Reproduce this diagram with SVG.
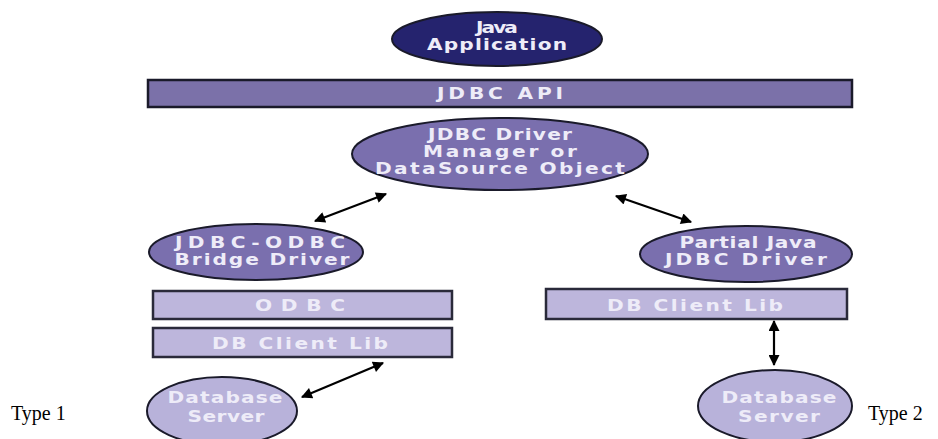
<svg xmlns="http://www.w3.org/2000/svg" width="938" height="439" viewBox="0 0 938 439">
  <style>
    .node { stroke: #1a1a2a; stroke-width: 2; }
    .dark { fill: #25236e; }
    .mid { fill: #7a6fae; }
    .light { fill: #b8b2da; }
    .bar { fill: #7b71a9; stroke: #1a1a2a; stroke-width: 2.5; }
    .lbar { fill: #bdb6dc; stroke: #2a2a3a; stroke-width: 2.5; }
    /* labels use a horizontally stretched sans for the wide lettering */
    .lbl { font-family: "DejaVu Sans", Verdana, sans-serif; font-size: 15.5px; font-weight: bold; fill: #eeecf8; text-anchor: middle; }
    .type { font-family: "Liberation Serif", serif; font-size: 20px; fill: #000; }
    .conn { stroke: #000; stroke-width: 2.2; fill: none; marker-start: url(#head); marker-end: url(#head); }
  </style>
  <defs>
    <marker id="head" viewBox="0 0 10 10" refX="9" refY="5" markerWidth="6" markerHeight="5" orient="auto-start-reverse" markerUnits="strokeWidth">
      <path d="M0,0 L10,5 L0,10 Z" fill="#000"/>
    </marker>
  </defs>
  <rect width="938" height="439" fill="#fff"/>

  <g id="connectors">
    <line class="conn" x1="315" y1="221" x2="386" y2="194"/>
    <line class="conn" x1="616" y1="196" x2="691" y2="222"/>
    <line class="conn" x1="774" y1="321" x2="774" y2="365"/>
    <line class="conn" x1="302" y1="397" x2="383" y2="363"/>
  </g>

  <g id="java-application">
    <ellipse class="node dark" cx="497" cy="39" rx="105" ry="27"/>
    <text class="lbl" transform="translate(497 33) scale(1.3 1)" textLength="32.3" lengthAdjust="spacing">Java</text>
    <text class="lbl" transform="translate(497 50) scale(1.3 1)" textLength="107.7" lengthAdjust="spacing">Application</text>
  </g>

  <g id="jdbc-api">
    <rect class="bar" x="148" y="80" width="704" height="27"/>
    <text class="lbl" transform="translate(500 99) scale(1.3 1)" textLength="96.9" lengthAdjust="spacing">JDBC API</text>
  </g>

  <g id="driver-manager">
    <ellipse class="node mid" cx="500" cy="154" rx="148" ry="36"/>
    <text class="lbl" transform="translate(500 140) scale(1.3 1)" textLength="110.8" lengthAdjust="spacing">JDBC Driver</text>
    <text class="lbl" transform="translate(500 157) scale(1.3 1)" textLength="118.5" lengthAdjust="spacing">Manager or</text>
    <text class="lbl" transform="translate(500 174) scale(1.3 1)" textLength="192.3" lengthAdjust="spacing">DataSource Object</text>
  </g>

  <g id="bridge-driver">
    <ellipse class="node mid" cx="256" cy="252" rx="107" ry="28"/>
    <text class="lbl" transform="translate(260 248) scale(1.3 1)" textLength="130.8" lengthAdjust="spacing">JDBC-ODBC</text>
    <text class="lbl" transform="translate(262 265) scale(1.3 1)" textLength="134.6" lengthAdjust="spacing">Bridge Driver</text>
  </g>

  <g id="partial-java-driver">
    <ellipse class="node mid" cx="746" cy="254" rx="106" ry="28"/>
    <text class="lbl" transform="translate(748 248) scale(1.3 1)" textLength="105.4" lengthAdjust="spacing">Partial Java</text>
    <text class="lbl" transform="translate(746 265) scale(1.3 1)" textLength="124.6" lengthAdjust="spacing">JDBC Driver</text>
  </g>

  <g id="odbc">
    <rect class="lbar" x="153" y="291" width="299" height="28"/>
    <text class="lbl" transform="translate(300 311) scale(1.3 1)" textLength="69.2" lengthAdjust="spacing">ODBC</text>
  </g>

  <g id="db-client-lib-1">
    <rect class="lbar" x="153" y="328" width="299" height="29"/>
    <text class="lbl" transform="translate(300 349) scale(1.3 1)" textLength="135.4" lengthAdjust="spacing">DB Client Lib</text>
  </g>

  <g id="db-client-lib-2">
    <rect class="lbar" x="546" y="289" width="301" height="30"/>
    <text class="lbl" transform="translate(695 311) scale(1.3 1)" textLength="135.4" lengthAdjust="spacing">DB Client Lib</text>
  </g>

  <g id="database-server-1">
    <ellipse class="node light" cx="222" cy="411" rx="75" ry="34"/>
    <text class="lbl" transform="translate(225 403) scale(1.3 1)" textLength="88.5" lengthAdjust="spacing">Database</text>
    <text class="lbl" transform="translate(226 422) scale(1.3 1)" textLength="59.2" lengthAdjust="spacing">Server</text>
  </g>

  <g id="database-server-2">
    <ellipse class="node light" cx="775" cy="406" rx="77" ry="36"/>
    <text class="lbl" transform="translate(779 403) scale(1.3 1)" textLength="88.5" lengthAdjust="spacing">Database</text>
    <text class="lbl" transform="translate(779 422) scale(1.3 1)" textLength="63" lengthAdjust="spacing">Server</text>
  </g>

  <text class="type" x="11" y="420">Type 1</text>
  <text class="type" x="868" y="420">Type 2</text>
</svg>
